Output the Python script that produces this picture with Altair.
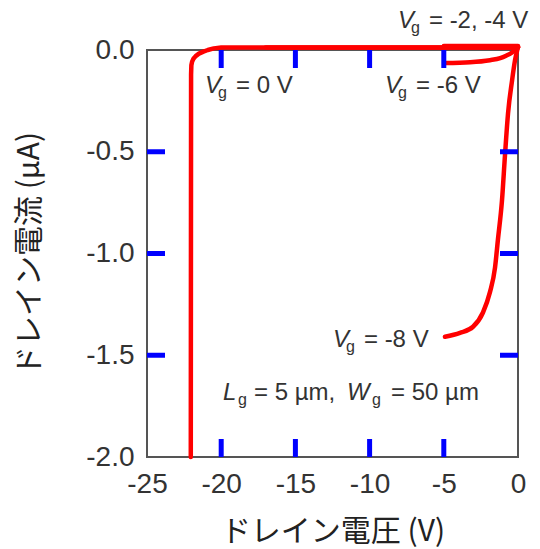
import altair as alt
import pandas as pd

# Drain current vs drain voltage, one curve per gate voltage
vd_0 = [0.0, -5.0, -10.0, -15.0, -20.0, -20.5, -20.9, -21.2, -21.5, -21.72, -21.87, -21.96, -22.01, -22.03, -22.05]
id_0 = [0.012, 0.012, 0.012, 0.012, 0.012, 0.008, 0.0, -0.008, -0.018, -0.03, -0.043, -0.057, -0.075, -0.12, -2.0]

vd_2 = [0.0, -17.0]
id_2 = [0.012, 0.012]

vd_4 = [0.0, -5.0]
id_4 = [0.02, 0.02]

vd_6 = [0.0, -0.4, -0.8, -1.2, -1.89, -3.23, -4.92]
id_6 = [0.015, -0.012, -0.028, -0.04, -0.05, -0.06, -0.064]

vd_8 = [0.0, -0.2, -0.4, -0.67, -0.88, -1.08, -1.35, -1.55, -1.89, -2.36, -3.03, -3.91, -4.92]
id_8 = [0.015, -0.05, -0.15, -0.31, -0.52, -0.74, -0.93, -1.07, -1.19, -1.29, -1.36, -1.39, -1.409]

x_ticks = [-25, -20, -15, -10, -5, 0]
y_ticks = [0.0, -0.5, -1.0, -1.5, -2.0]
x_inner = [-20, -15, -10, -5]
y_inner = [-0.5, -1.0, -1.5]

# Annotation text: italic symbol + subscript "g" + remainder
lab_sym = ["V", "V", "V", "V", "L", "W"]
lab_rest = ["= 0 V", "= -2, -4 V", "= -6 V", "= -8 V", "= 5 µm,", "= 50 µm"]
lab_x = [-21.09, -8.09, -8.96, -12.47, -19.88, -11.52]
lab_y = [-0.211, 0.108, -0.211, -1.459, -1.72, -1.72]

X_MIN, X_MAX = -25, 0
Y_MIN, Y_MAX = -2.0, 0.0
W, H = 371, 407

FONT = "Liberation Sans"
TXT = "#333333"
AX = "#555555"
RED = "#ff0000"

rows = []
for name, vs, cs in [("0", vd_0, id_0), ("-2", vd_2, id_2), ("-4", vd_4, id_4)]:
    for v, c in zip(vs, cs):
        rows.append({"vg": name, "vd": v, "id": c})
straight = pd.DataFrame(rows)
straight["k"] = range(len(straight))

srows = []
for name, vs, cs in [("-6", vd_6, id_6), ("-8", vd_8, id_8)]:
    for v, c in zip(vs, cs):
        srows.append({"vg": name, "vd": v, "id": c})
smooth = pd.DataFrame(srows).sort_values(["vg", "vd"]).reset_index(drop=True)

# Inward tick marks: short segments in data units
TL = 18
dx_t = TL * (X_MAX - X_MIN) / W
dy_t = TL * (Y_MAX - Y_MIN) / H
seg = []
for v in x_inner:
    seg.append({"x1": v, "x2": v, "y1": Y_MIN, "y2": Y_MIN + dy_t})
    seg.append({"x1": v, "x2": v, "y1": Y_MAX, "y2": Y_MAX - dy_t})
for v in y_inner:
    seg.append({"x1": X_MIN, "x2": X_MIN + dx_t, "y1": v, "y2": v})
    seg.append({"x1": X_MAX, "x2": X_MAX - dx_t, "y1": v, "y2": v})
segdf = pd.DataFrame(seg)

xs = alt.Scale(domain=[X_MIN, X_MAX], nice=False, zero=False)
ys = alt.Scale(domain=[Y_MIN, Y_MAX], nice=False, zero=False)

x_enc = alt.X("vd:Q", scale=xs,
              axis=alt.Axis(values=x_ticks, title="ドレイン電圧 (V)", labelFlush=False,
                            labelExpr="(datum.value < 0 ? '-' : '') + format(abs(datum.value), 'd')",
                            labelPadding=13, titleY=74, titleBaseline="middle"))
y_enc = alt.Y("id:Q", scale=ys,
              axis=alt.Axis(values=y_ticks, title="ドレイン電流 (µA)", labelFlush=False,
                            labelExpr="(datum.value < 0 ? '-' : '') + format(abs(datum.value), '.1f')",
                            labelPadding=13, titleX=-118, titleY=203.5, titleAngle=270,
                            titleAlign="center", titleBaseline="middle"))

line_kw = dict(color=RED, strokeWidth=4.5, strokeCap="round", strokeJoin="round")
lines_a = alt.Chart(straight).mark_line(**line_kw).encode(
    x=x_enc, y=y_enc, detail="vg:N", order="k:Q")
lines_b = alt.Chart(smooth).mark_line(interpolate="monotone", **line_kw).encode(
    x=alt.X("vd:Q", scale=xs), y=alt.Y("id:Q", scale=ys), detail="vg:N", order="vd:Q")

ticks = alt.Chart(segdf).mark_rule(color="blue", strokeWidth=5).encode(
    x=alt.X("x1:Q", scale=xs), x2="x2:Q",
    y=alt.Y("y1:Q", scale=ys), y2="y2:Q")

labels = pd.DataFrame({"sym": lab_sym, "rest": lab_rest, "x": lab_x, "y": lab_y})
labels["sub"] = "g"
sub_dx = {"V": 13, "L": 15, "W": 25}
rest_dx = {"V": 31, "L": 31, "W": 44}

FS = 24
text_layers = []
for sym in ["V", "L", "W"]:
    d = labels[labels["sym"] == sym].reset_index(drop=True)
    base = alt.Chart(d).encode(x=alt.X("x:Q", scale=xs), y=alt.Y("y:Q", scale=ys))
    text_layers.append(base.mark_text(font=FONT, fontSize=FS, fontStyle="italic", align="left",
                                      baseline="alphabetic", color=TXT).encode(text="sym:N"))
    text_layers.append(base.mark_text(font=FONT, fontSize=16, align="left", baseline="alphabetic",
                                      color=TXT, dx=sub_dx[sym], dy=5).encode(text="sub:N"))
    text_layers.append(base.mark_text(font=FONT, fontSize=FS, align="left", baseline="alphabetic",
                                      color=TXT, dx=rest_dx[sym]).encode(text="rest:N"))

chart = alt.layer(lines_a, lines_b, ticks, *text_layers).properties(
    width=W, height=H,
    autosize=alt.AutoSizeParams(type="none"),
    padding={"left": 147, "top": 50, "right": 22, "bottom": 92},
).configure_view(
    stroke=AX, strokeWidth=2
).configure_axis(
    domain=False, ticks=False, grid=False,
    labelFont=FONT, labelFontSize=28, labelColor=TXT,
    titleFont="Noto Sans CJK JP", titleFontSize=30, titleFontWeight="normal", titleColor="#222222",
)

chart.save("out.html", embed_options={"renderer": "svg", "actions": False})
